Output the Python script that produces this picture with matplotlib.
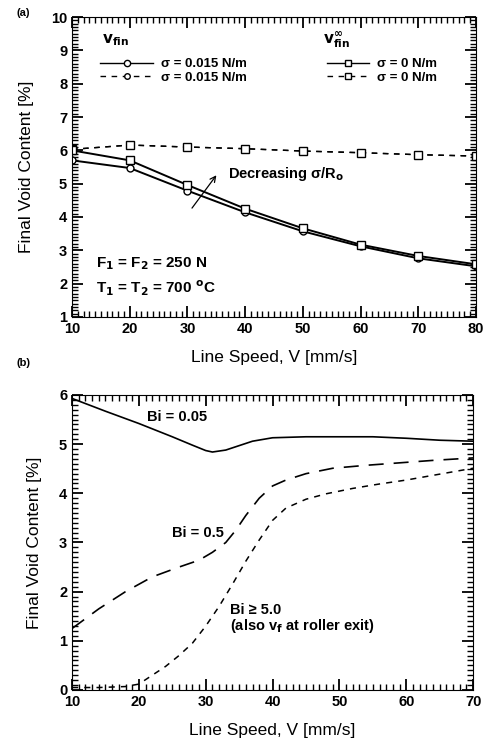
import matplotlib
matplotlib.use("Agg")
import matplotlib.pyplot as plt
from matplotlib.ticker import MultipleLocator
from matplotlib.lines import Line2D

plt.rcParams['font.family'] = ['Liberation Sans', 'DejaVu Sans']
plt.rcParams['font.weight'] = 'bold'

# panel (a) data
speed_a = [10, 20, 30, 40, 50, 60, 70, 80]
vfin_sig015 = [5.70, 5.47, 4.79, 4.14, 3.57, 3.12, 2.76, 2.52]
vfin_sig0 = [6.00, 5.70, 4.96, 4.25, 3.66, 3.17, 2.83, 2.58]
vinf_sig015 = [6.03, 6.16, 6.10, 6.05, 5.98, 5.93, 5.87, 5.83]
vinf_sig0 = [6.03, 6.16, 6.10, 6.05, 5.98, 5.93, 5.87, 5.83]

# panel (b) data
speed_bi005 = [10, 15, 20, 25, 28, 30, 31, 33, 35, 37, 40, 45, 50, 55, 60, 65, 70]
bi005 = [5.93, 5.67, 5.42, 5.15, 4.98, 4.87, 4.84, 4.88, 4.97, 5.06, 5.13, 5.15, 5.15, 5.15, 5.12, 5.08, 5.06]
speed_bi05 = [10, 14, 18, 22, 26, 29, 31, 33, 34.5, 36, 38, 40, 42, 45, 49, 54, 59, 64, 70]
bi05 = [1.25, 1.65, 2.00, 2.30, 2.50, 2.64, 2.80, 3.00, 3.25, 3.55, 3.90, 4.15, 4.27, 4.40, 4.51, 4.57, 4.62, 4.67, 4.72]
speed_bi5 = [10, 14, 18, 20, 22, 24, 26, 28, 30, 32, 34, 36, 38, 40, 42, 45, 48, 52, 56, 60, 65, 70]
bi5 = [0.05, 0.05, 0.07, 0.12, 0.30, 0.48, 0.70, 0.95, 1.30, 1.70, 2.15, 2.62, 3.05, 3.45, 3.70, 3.88, 3.99, 4.10, 4.19, 4.27, 4.39, 4.51]

fig = plt.figure(figsize=(4.85, 7.44), dpi=100)
ax1 = fig.add_axes([0.1485, 0.574, 0.833, 0.403])
ax2 = fig.add_axes([0.1485, 0.0726, 0.827, 0.3965])

# ---- (a)
ax1.plot(speed_a, vinf_sig015, '--', color='black', lw=1, marker='o', ms=4,
         mfc='white', mec='black', dashes=(4, 4))
ax1.plot(speed_a, vinf_sig0, '--', color='black', lw=1, marker='s', ms=5.5,
         mfc='white', mec='black', dashes=(4, 4))
ax1.plot(speed_a, vfin_sig015, '-', color='black', lw=1.4, marker='o', ms=5,
         mfc='white', mec='black')
ax1.plot(speed_a, vfin_sig0, '-', color='black', lw=1.4, marker='s', ms=5.5,
         mfc='white', mec='black')
ax1.set_xlim(10, 80)
ax1.set_ylim(1, 10)
ax1.set_xlabel('Line Speed, V [mm/s]', fontsize=12.5, fontweight='normal', labelpad=10)
ax1.set_ylabel('Final Void Content [%]', fontsize=12.5, fontweight='normal', labelpad=12)

h1 = [Line2D([], [], color='black', lw=1, marker='o', ms=4.5, mfc='white', label='σ = 0.015 N/m'),
      Line2D([], [], color='black', lw=1, ls='--', dashes=(4, 4), marker='o', ms=4, mfc='white',
             label='σ = 0.015 N/m')]
h2 = [Line2D([], [], color='black', lw=1, marker='s', ms=5, mfc='white', label='σ = 0 N/m'),
      Line2D([], [], color='black', lw=1, ls='--', dashes=(4, 4), marker='s', ms=5, mfc='white',
             label='σ = 0 N/m')]
leg_kw = dict(frameon=False, fontsize=9.5, handletextpad=0.6, labelspacing=0.1,
              borderpad=0, borderaxespad=0, loc='center left')
leg1 = ax1.legend(handles=h1, bbox_to_anchor=(0.07, 0.82), handlelength=4, **leg_kw)
ax1.add_artist(leg1)
ax1.legend(handles=h2, bbox_to_anchor=(0.63, 0.82), handlelength=3.2, **leg_kw)
ax1.text(15.2, 9.3, r'$\mathbf{v_{fin}}$', fontsize=11, va='center')
ax1.text(53.4, 9.3, r'$\mathbf{v_{fin}^{\infty}}$', fontsize=11, va='center')

ax1.annotate('', xy=(35.3, 5.32), xytext=(30.5, 4.2),
             arrowprops=dict(arrowstyle='->', color='black', lw=0.9))
ax1.text(37.1, 5.29, r'Decreasing σ/R$_\mathbf{o}$', fontsize=10.5, va='center')
ax1.text(14.2, 2.6, r'F$_\mathbf{1}$ = F$_\mathbf{2}$ = 250 N', fontsize=11, va='center')
ax1.text(14.2, 1.86, r'T$_\mathbf{1}$ = T$_\mathbf{2}$ = 700 $^\mathbf{o}$C', fontsize=11, va='center')
fig.text(0.033, 0.982, '(a)', fontsize=8, fontweight='bold', va='center')

# ---- (b)
ax2.plot(speed_bi005, bi005, '-', color='black', lw=1.2)
ax2.plot(speed_bi05, bi05, '--', color='black', lw=1.2, dashes=(9, 6))
ax2.plot(speed_bi5, bi5, '--', color='black', lw=1.1, dashes=(4, 4))
ax2.set_xlim(10, 70)
ax2.set_ylim(0, 6)
ax2.set_xlabel('Line Speed, V [mm/s]', fontsize=12.5, fontweight='normal', labelpad=10)
ax2.set_ylabel('Final Void Content [%]', fontsize=12.5, fontweight='normal', labelpad=12)

ax2.text(21.2, 5.55, 'Bi = 0.05', fontsize=10.5, va='center')
ax2.text(25.0, 3.19, 'Bi = 0.5', fontsize=10.5, va='center')
ax2.text(33.6, 1.63, 'Bi ≥ 5.0', fontsize=10.5, va='center')
ax2.text(33.6, 1.30, r'(also v$_\mathbf{f}$ at roller exit)', fontsize=10.5, va='center')
fig.text(0.033, 0.512, '(b)', fontsize=8, fontweight='bold', va='center')

# ticks on all four sides, pointing in
for ax in (ax1, ax2):
    ax.xaxis.set_major_locator(MultipleLocator(10))
    ax.xaxis.set_minor_locator(MultipleLocator(1))
    ax.yaxis.set_major_locator(MultipleLocator(1))
    ax.yaxis.set_minor_locator(MultipleLocator(0.1))
    ax.tick_params(which='both', direction='in', top=True, right=True, colors='black')
    ax.tick_params(which='major', length=8, width=1.3, labelsize=10.5)
    ax.tick_params(which='minor', length=4, width=1.0)

fig.savefig('out.png', dpi=100)
